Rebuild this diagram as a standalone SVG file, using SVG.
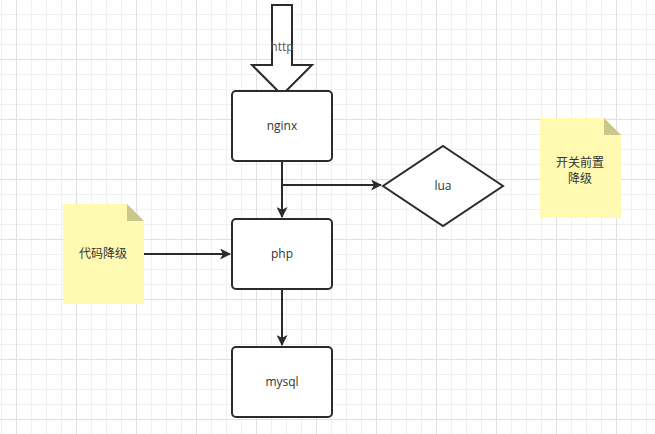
<svg xmlns="http://www.w3.org/2000/svg" width="655" height="434" viewBox="0 0 655 434">
<defs>
<pattern id="gs" x="1" y="-1" width="15" height="15" patternUnits="userSpaceOnUse">
<path d="M0 0.5H15M0.5 0V15" fill="none" stroke="#f0f0f0" stroke-width="1"/>
</pattern>
<pattern id="gl" x="16" y="-1" width="60" height="60" patternUnits="userSpaceOnUse">
<path d="M0 0.5H60M0.5 0V60" fill="none" stroke="#e0e0e0" stroke-width="1"/>
</pattern>
<marker id="ah" viewBox="0 0 10 10" refX="9" refY="5" markerWidth="5.5" markerHeight="5.5" orient="auto" markerUnits="strokeWidth">
<path d="M0 0L10 5L0 10L2.5 5Z" fill="#2b2b2b"/>
</marker>
</defs>
<style>
.box{fill:#fff;stroke:#2b2b2b;stroke-width:2}
.note{fill:#fff9b2;stroke:none}
.fold{fill:#cbc78a}
.t{font-family:"Open Sans","Noto Sans CJK SC",sans-serif;font-size:12px;fill:#333;text-anchor:middle}
.c{fill:none;stroke:#2b2b2b;stroke-width:2}
</style>
<rect width="655" height="434" fill="#fff"/>
<rect width="655" height="434" fill="url(#gs)"/>
<rect width="655" height="434" fill="url(#gl)"/>

<g id="http">
<path class="box" d="M272 5H292V65H312L282 95L252 65H272Z"/>
<text class="t" x="282" y="51" style="fill:#555">http</text>
</g>

<g id="nginx">
<rect class="box" x="232" y="91" width="100" height="70" rx="4"/>
<text class="t" x="282" y="130">nginx</text>
</g>

<g id="php">
<rect class="box" x="232" y="219" width="100" height="70" rx="4"/>
<text class="t" x="282" y="258">php</text>
</g>

<g id="mysql">
<rect class="box" x="232" y="347" width="100" height="70" rx="4"/>
<text class="t" x="282" y="386">mysql</text>
</g>

<g id="lua">
<path class="box" d="M443 146L503 186L443 226L383 186Z"/>
<text class="t" x="443" y="190">lua</text>
</g>

<g id="note-switch">
<path class="note" d="M540 118H604L621 135V218H540Z"/>
<path class="fold" d="M604 118L621 135H604Z"/>
<text class="t" x="580" y="167">开关前置</text>
<text class="t" x="580" y="183">降级</text>
</g>

<g id="note-code">
<path class="note" d="M63 204H127L144 221V304H63Z"/>
<path class="fold" d="M127 204L144 221H127Z"/>
<text class="t" x="103" y="258">代码降级</text>
</g>

<g id="connectors">
<path class="c" d="M282 161V217" marker-end="url(#ah)"/>
<path class="c" d="M282 185H381" marker-end="url(#ah)"/>
<path class="c" d="M144 254H230" marker-end="url(#ah)"/>
<path class="c" d="M282 289V345" marker-end="url(#ah)"/>
</g>
</svg>
